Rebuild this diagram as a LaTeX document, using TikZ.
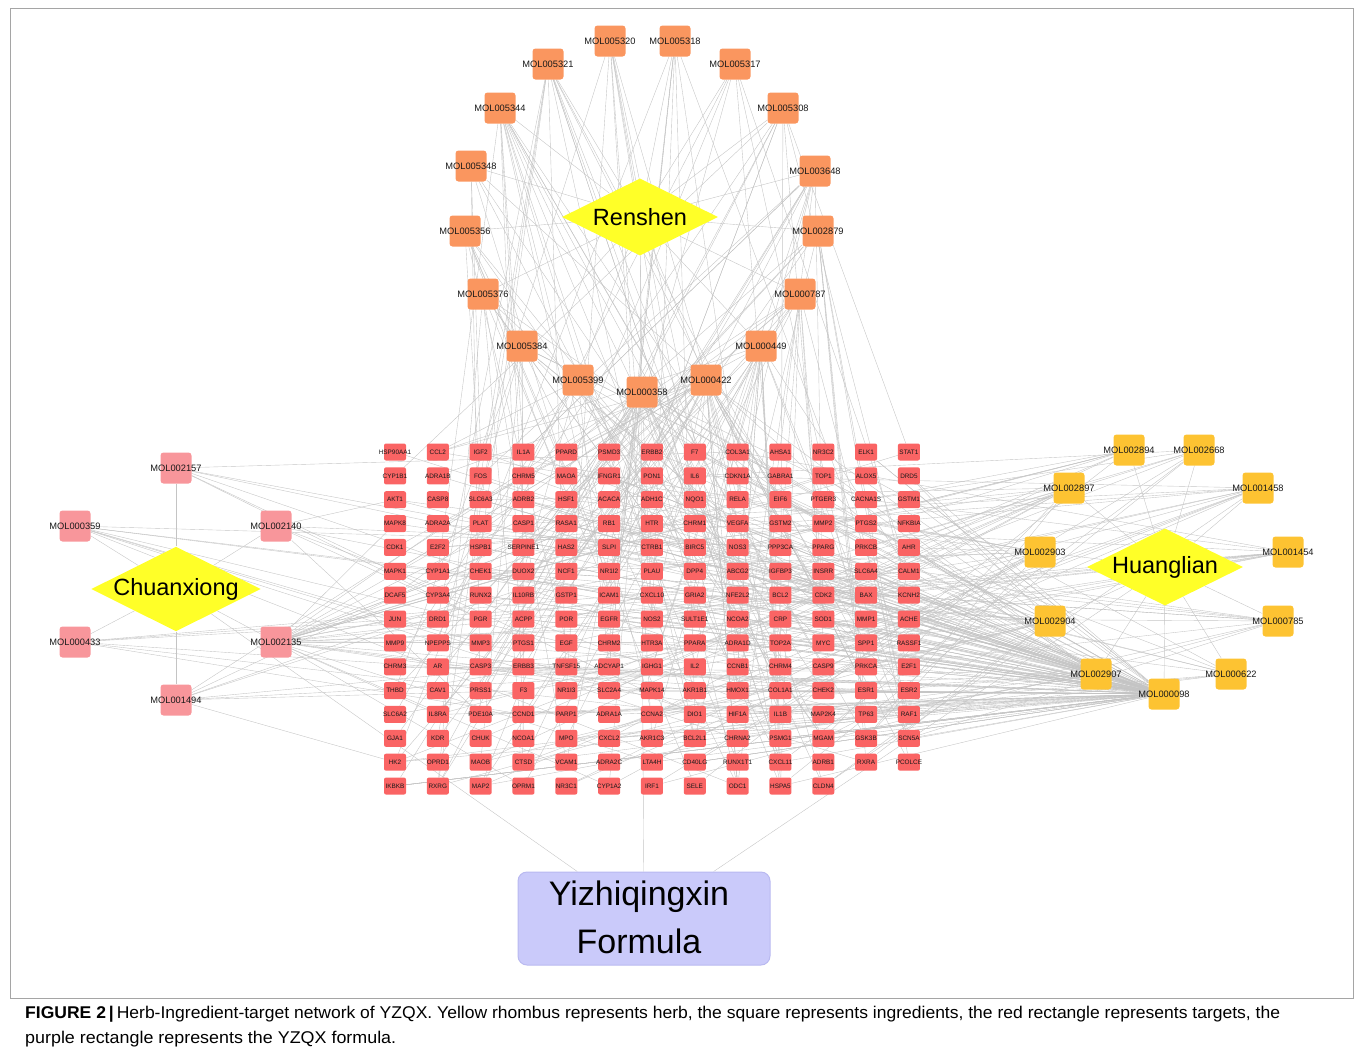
\documentclass[tikz,border=0pt]{standalone}
\usepackage{fontspec}
\setmainfont{Liberation Sans}
\usepackage{graphicx}
\usetikzlibrary{shapes.geometric,backgrounds}
\definecolor{rsc}{RGB}{250,150,95}
\definecolor{cxc}{RGB}{248,150,155}
\definecolor{hlc}{RGB}{253,195,50}
\definecolor{tgc}{RGB}{250,100,100}
\definecolor{herbc}{RGB}{255,255,40}
\definecolor{frmc}{RGB}{202,202,250}
\definecolor{frmd}{RGB}{185,185,240}
\definecolor{edgec}{RGB}{196,196,196}
\definecolor{framec}{RGB}{165,165,165}
\tikzset{
 ing/.style={rectangle, rounded corners=3pt, minimum width=31pt, minimum height=31pt, inner sep=0pt},
 rsnode/.style={ing, fill=rsc},
 cxnode/.style={ing, fill=cxc},
 hlnode/.style={ing, fill=hlc},
 moltext/.style={inner sep=0pt, font=\fontsize{9.3}{10}\selectfont, text=black!90},
 tgnode/.style={rectangle, rounded corners=2pt, minimum width=22pt, minimum height=17pt, inner sep=0pt, fill=tgc},
 tgtext/.style={inner sep=0pt, font=\fontsize{6.4}{7}\selectfont, text=black!90},
 herb/.style={diamond, aspect=2, minimum width=156pt, minimum height=77pt, inner sep=0pt, fill=herbc, font=\fontsize{23.5}{26}\selectfont},
 edge/.style={draw=edgec, line width=0.38pt},
 bigtext/.style={inner sep=0pt, anchor=base, font=\fontsize{34}{40}\selectfont},
 captext/.style={inner sep=0pt, anchor=base west, font=\fontsize{17}{20}\selectfont},
}
\newcommand\ingr[4]{\node[#1] (#2) at (#3,#4) {}; \node[moltext] at (#3,#4) {#2};}
\begin{document}
\begin{tikzpicture}[x=1pt,y=-1pt]
\useasboundingbox (0,0) rectangle (1355,1053);
% ---- Renshen ingredients
\ingr{rsnode}{MOL005320}{610}{41}
\ingr{rsnode}{MOL005318}{675}{41}
\ingr{rsnode}{MOL005321}{548}{64}
\ingr{rsnode}{MOL005317}{735}{64}
\ingr{rsnode}{MOL005344}{500}{108}
\ingr{rsnode}{MOL005308}{783}{108}
\ingr{rsnode}{MOL005348}{471}{166}
\ingr{rsnode}{MOL003648}{815}{171}
\ingr{rsnode}{MOL005356}{465}{231}
\ingr{rsnode}{MOL002879}{818}{231}
\ingr{rsnode}{MOL005376}{483}{294}
\ingr{rsnode}{MOL000787}{800}{294}
\ingr{rsnode}{MOL005384}{522}{346}
\ingr{rsnode}{MOL000449}{761}{346}
\ingr{rsnode}{MOL005399}{578}{380}
\ingr{rsnode}{MOL000358}{642}{392}
\ingr{rsnode}{MOL000422}{706}{380}
% ---- Chuanxiong ingredients
\ingr{cxnode}{MOL002157}{176}{468}
\ingr{cxnode}{MOL000359}{75}{526}
\ingr{cxnode}{MOL002140}{276}{526}
\ingr{cxnode}{MOL000433}{75}{642}
\ingr{cxnode}{MOL002135}{276}{642}
\ingr{cxnode}{MOL001494}{176}{700}
% ---- Huanglian ingredients
\ingr{hlnode}{MOL002894}{1129}{450}
\ingr{hlnode}{MOL002668}{1199}{450}
\ingr{hlnode}{MOL002897}{1069}{488}
\ingr{hlnode}{MOL001458}{1258}{488}
\ingr{hlnode}{MOL002903}{1040}{552}
\ingr{hlnode}{MOL001454}{1288}{552}
\ingr{hlnode}{MOL002904}{1050}{621}
\ingr{hlnode}{MOL000785}{1278}{621}
\ingr{hlnode}{MOL002907}{1096}{674}
\ingr{hlnode}{MOL000622}{1231}{674}
\ingr{hlnode}{MOL000098}{1164}{694}
% ---- herbs
\node[herb] (renshen) at (640,217) {Renshen};
\node[herb] (chuanxiong) at (176,589) {Chuanxiong};
\node[herb] (huanglian) at (1165,567) {Huanglian};
% ---- formula
\node[draw=frmd, fill=frmc, rounded corners=9pt, minimum width=252pt, minimum height=93pt, line width=1pt] (formula) at (644,918.5) {};
\node[bigtext] at (639,905) {Yizhiqingxin};
\node[bigtext] at (639,953) {Formula};
% ---- targets
\foreach \row [count=\r] in {
 {HSP90AA1,CCL2,IGF2,IL1A,PPARD,PSMD3,ERBB2,F7,COL3A1,AHSA1,NR3C2,ELK1,STAT1},
 {CYP1B1,ADRA1B,FOS,CHRM5,MAOA,IFNGR1,PON1,IL6,CDKN1A,GABRA1,TOP1,ALOX5,DRD5},
 {AKT1,CASP8,SLC6A3,ADRB2,HSF1,ACACA,ADH1C,NQO1,RELA,EIF6,PTGER3,CACNA1S,GSTM1},
 {MAPK8,ADRA2A,PLAT,CASP1,RASA1,RB1,HTR,CHRM1,VEGFA,GSTM2,MMP2,PTGS2,NFKBIA},
 {CDK1,E2F2,HSPB1,SERPINE1,HAS2,SLPI,CTRB1,BIRC5,NOS3,PPP3CA,PPARG,PRKCB,AHR},
 {MAPK1,CYP1A1,CHEK1,DUOX2,NCF1,NR1I2,PLAU,DPP4,ABCG2,IGFBP3,INSRR,SLC6A4,CALM1},
 {DCAF5,CYP3A4,RUNX2,IL10RB,GSTP1,ICAM1,CXCL10,GRIA2,NFE2L2,BCL2,CDK2,BAX,KCNH2},
 {JUN,DRD1,PGR,ACPP,POR,EGFR,NOS2,SULT1E1,NCOA2,CRP,SOD1,MMP1,ACHE},
 {MMP9,NPEPPS,MMP3,PTGS1,EGF,CHRM2,HTR3A,PPARA,ADRA1D,TOP2A,MYC,SPP1,RASSF1},
 {CHRM3,AR,CASP3,ERBB3,TNFSF15,ADCYAP1,IGHG1,IL2,CCNB1,CHRM4,CASP9,PRKCA,E2F1},
 {THBD,CAV1,PRSS1,F3,NR1I3,SLC2A4,MAPK14,AKR1B1,HMOX1,COL1A1,CHEK2,ESR1,ESR2},
 {SLC6A2,IL8RA,PDE10A,CCND1,PARP1,ADRA1A,CCNA2,DIO1,HIF1A,IL1B,MAP2K4,TP63,RAF1},
 {GJA1,KDR,CHUK,NCOA1,MPO,CXCL2,AKR1C3,BCL2L1,CHRNA2,PSMG1,MGAM,GSK3B,SCN5A},
 {HK2,OPRD1,MAOB,CTSD,VCAM1,ADRA2C,LTA4H,CD40LG,RUNX1T1,CXCL11,ADRB1,RXRA,PCOLCE},
 {IKBKB,RXRG,MAP2,OPRM1,NR3C1,CYP1A2,IRF1,SELE,ODC1,HSPA5,CLDN4}}{
  \foreach \lab [count=\c] in \row {
    \node[tgnode] (t\r-\c) at ({395+(\c-1)*42.83},{452+(\r-1)*23.86}) {};
    \node[tgtext] at (t\r-\c) {\lab};
  }
}
% ---- caption
\node[captext] at (25,1018) {\resizebox{1255pt}{\height}{\textbf{FIGURE 2\,|\,}Herb-Ingredient-target network of YZQX. Yellow rhombus represents herb, the square represents ingredients, the red rectangle represents targets, the}};
\node[captext] at (25,1043) {\resizebox{371pt}{\height}{purple rectangle represents the YZQX formula.}};
% ---- edges
\begin{pgfonlayer}{background}
\draw[framec, line width=0.8pt] (10,8) rectangle (1353,998);
\pgfmathsetseed{4242}
\foreach \m/\n in {MOL005320/8,MOL005318/8,MOL005321/12,MOL005317/6,MOL005344/14,MOL005308/10,
  MOL005348/6,MOL003648/12,MOL005356/8,MOL002879/10,MOL005376/8,MOL000787/14,MOL005384/10,
  MOL000449/20,MOL005399/10,MOL000358/25,MOL000422/30,
  MOL002157/6,MOL000359/8,MOL002140/6,MOL000433/6,MOL002135/30,MOL001494/8,
  MOL002894/8,MOL002668/8,MOL002897/12,MOL001458/12,MOL002903/15,MOL001454/12,MOL002904/20,
  MOL000785/10,MOL002907/20,MOL000622/8,MOL000098/120}{
  \foreach \k in {1,...,\n}{
    \pgfmathrandominteger{\myR}{1}{15}
    \pgfmathrandominteger{\myC}{1}{13}
    \ifnum\myR=15 \ifnum\myC>11 \pgfmathtruncatemacro{\myC}{\myC-2}\fi\fi
    \draw[edge] (\m) -- (t\myR-\myC);
  }
}
\foreach \m in {MOL005320,MOL005318,MOL005321,MOL005317,MOL005344,MOL005308,MOL005348,MOL003648,
  MOL005356,MOL002879,MOL005376,MOL000787,MOL005384,MOL000449,MOL005399,MOL000358,MOL000422}
  \draw[edge] (renshen) -- (\m);
\foreach \m in {MOL002157,MOL000359,MOL002140,MOL000433,MOL002135,MOL001494}
  \draw[edge] (chuanxiong) -- (\m);
\foreach \m in {MOL002894,MOL002668,MOL002897,MOL001458,MOL002903,MOL001454,MOL002904,
  MOL000785,MOL002907,MOL000622,MOL000098}
  \draw[edge] (huanglian) -- (\m);
\draw[edge] (formula) -- (renshen);
\draw[edge] (formula) -- (chuanxiong);
\draw[edge] (formula) -- (huanglian);
\end{pgfonlayer}
\end{tikzpicture}
\end{document}
